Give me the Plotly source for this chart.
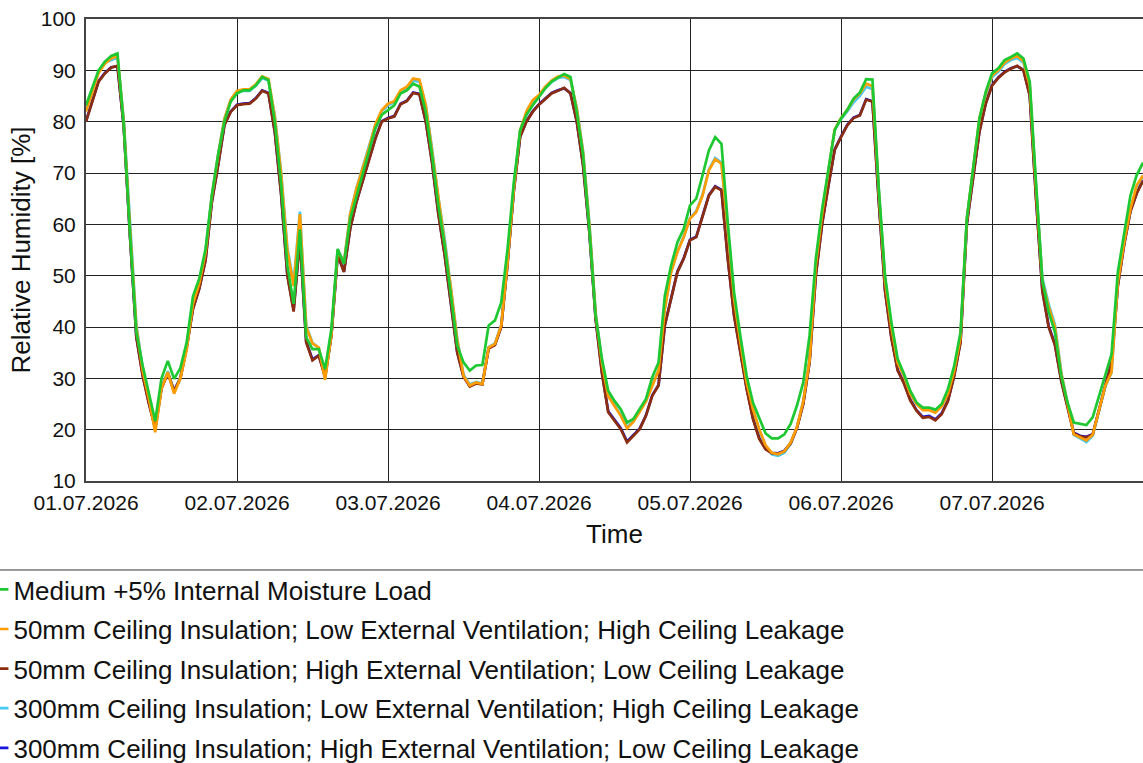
import pandas as pd
import plotly.graph_objects as go

# hourly time stamps, 01.07.2026 00:00 .. 08.07.2026 00:00
times = pd.date_range("2026-07-01 00:00", periods=169, freq="h")
tick_days = pd.date_range("2026-07-01", periods=7, freq="D")
tick_text = [d.strftime("%d.%m.%Y") for d in tick_days]

names = [
    "Medium +5% Internal Moisture Load",
    "50mm Ceiling Insulation; Low External Ventilation; High Ceiling Leakage",
    "50mm Ceiling Insulation; High External Ventilation; Low Ceiling Leakage",
    "300mm Ceiling Insulation; Low External Ventilation; High Ceiling Leakage",
    "300mm Ceiling Insulation; High External Ventilation; Low Ceiling Leakage",
]

rh_medium = [
    83.2, 86.8, 90.0, 91.7, 92.8, 93.3, 79.5, 58.0, 39.0, 32.5, 27.0, 21.7,
    30.0, 33.4, 29.9, 32.0, 37.0, 46.0, 49.4, 55.2, 65.6, 73.5, 80.0, 83.9,
    85.5, 86.1, 86.1, 87.1, 88.7, 88.1, 80.0, 68.0, 52.0, 44.5, 59.0, 38.0,
    35.7, 35.7, 31.8, 39.6, 55.2, 52.3, 61.1, 65.6, 69.9, 74.1, 78.7, 81.3,
    82.2, 83.2, 85.5, 86.1, 87.4, 86.8, 81.9, 73.5, 63.7, 55.9, 46.1, 36.4,
    33.1, 31.5, 32.5, 32.6, 40.3, 41.3, 44.8, 55.2, 68.2, 78.3, 81.3, 83.2,
    84.8, 86.5, 87.8, 88.5, 89.3, 88.7, 81.9, 73.5, 59.2, 42.2, 33.8, 27.6,
    25.6, 24.0, 21.4, 22.1, 24.0, 26.0, 30.2, 33.1, 46.1, 52.0, 56.5, 59.1,
    63.7, 65.0, 69.6, 74.4, 77.0, 75.7, 60.4, 46.8, 38.3, 30.5, 25.3, 22.1,
    19.3, 18.3, 18.3, 19.1, 21.1, 24.7, 29.2, 38.3, 53.3, 63.0, 70.9, 78.4,
    80.6, 82.3, 84.5, 85.7, 88.3, 88.2, 67.0, 50.0, 41.0, 33.8, 30.9, 27.6,
    25.3, 24.3, 24.3, 23.9, 25.0, 27.9, 32.5, 39.0, 61.1, 70.9, 80.6, 85.8,
    89.4, 90.4, 92.0, 92.6, 93.3, 92.3, 87.8, 68.0, 49.0, 43.0, 39.0, 30.5,
    25.3, 21.4, 21.1, 20.9, 22.4, 26.6, 30.5, 34.7, 50.7, 58.5, 65.6, 69.6,
    72.0,
]

rh_50_low_vent = [
    82.0, 86.0, 89.5, 91.3, 92.3, 92.8, 80.0, 59.0, 40.0, 31.5, 26.0, 19.5,
    28.0, 31.2, 27.0, 30.0, 35.5, 44.5, 48.5, 54.5, 65.5, 73.5, 80.5, 84.3,
    86.0, 86.3, 86.3, 87.3, 88.8, 88.3, 81.0, 70.0, 55.0, 48.0, 62.0, 40.0,
    36.8, 36.0, 29.7, 38.5, 55.0, 52.5, 62.0, 67.0, 71.0, 75.0, 79.5, 82.2,
    83.5, 84.0, 86.1, 86.8, 88.4, 88.2, 83.2, 74.5, 65.0, 57.0, 47.5, 37.5,
    30.5, 28.6, 29.2, 28.9, 36.0, 36.7, 40.3, 52.6, 67.0, 78.3, 82.0, 84.2,
    85.2, 86.8, 88.0, 88.8, 89.0, 88.3, 82.5, 74.0, 60.0, 42.5, 33.0, 26.5,
    24.6, 22.7, 20.3, 21.5, 23.5, 25.5, 28.5, 31.5, 43.5, 50.7, 54.6, 57.5,
    61.1, 62.4, 65.6, 70.5, 72.7, 71.8, 59.1, 45.5, 37.0, 29.2, 24.0, 20.1,
    17.0, 15.5, 15.2, 15.8, 17.5, 20.5, 25.5, 33.5, 52.0, 62.0, 70.5, 78.5,
    80.7, 82.3, 84.3, 85.5, 87.4, 86.9, 66.5, 49.0, 40.0, 33.0, 30.5, 27.0,
    25.0, 23.8, 23.8, 23.3, 24.5, 27.0, 31.5, 38.0, 61.0, 71.0, 80.6, 85.5,
    89.0, 90.0, 91.5, 92.3, 92.8, 91.8, 87.0, 67.0, 49.0, 44.0, 40.0, 31.0,
    25.0, 19.1, 18.5, 17.9, 19.0, 24.0, 28.5, 31.2, 48.7, 56.5, 63.0, 67.6,
    69.5,
]

rh_50_high_vent = [
    80.0, 84.0, 87.8, 89.4, 90.5, 90.9, 79.0, 57.5, 38.0, 30.5, 25.0, 20.3,
    28.0, 31.0, 27.5, 30.0, 36.0, 43.5, 47.4, 53.0, 64.3, 71.5, 79.3, 81.9,
    83.2, 83.4, 83.5, 84.5, 86.0, 85.5, 78.0, 66.0, 50.0, 43.0, 57.0, 37.0,
    33.5, 34.4, 30.3, 38.3, 54.0, 50.7, 59.2, 64.4, 68.6, 72.8, 76.7, 80.0,
    80.6, 81.0, 83.4, 84.0, 85.6, 85.3, 80.0, 72.0, 62.0, 54.0, 44.0, 35.0,
    30.3, 28.4, 29.0, 28.8, 35.8, 36.5, 40.0, 52.3, 66.5, 77.0, 80.0, 81.9,
    83.3, 84.5, 85.5, 86.0, 86.6, 85.5, 80.0, 71.5, 58.5, 41.5, 31.0, 23.4,
    21.7, 20.1, 17.5, 18.8, 20.1, 22.7, 26.6, 28.6, 40.3, 45.5, 50.7, 53.3,
    56.9, 57.5, 61.7, 65.6, 67.3, 66.6, 53.3, 42.2, 35.1, 27.9, 22.1, 18.2,
    16.2, 15.4, 15.3, 15.8, 17.3, 20.3, 25.0, 33.0, 50.0, 60.0, 67.5, 74.5,
    77.0, 79.3, 80.7, 81.2, 84.3, 83.9, 64.5, 47.0, 37.9, 31.5, 29.0, 25.7,
    23.7, 22.3, 22.5, 21.8, 23.0, 25.6, 30.5, 37.0, 60.0, 69.5, 78.0, 83.5,
    87.0, 88.5, 89.6, 90.3, 90.9, 90.0, 85.0, 65.0, 47.0, 40.0, 36.5, 29.5,
    24.5, 19.3, 18.7, 18.5, 19.0, 24.0, 28.5, 33.0, 48.0, 56.0, 62.5, 66.0,
    68.5,
]

rh_300_low_vent = [
    82.2, 86.2, 89.7, 91.5, 92.0, 92.5, 80.3, 59.5, 40.5, 32.0, 26.3, 19.8,
    28.2, 31.4, 27.3, 30.2, 35.8, 44.8, 48.7, 54.7, 65.7, 73.6, 80.6, 84.2,
    85.8, 86.0, 86.0, 87.0, 88.5, 88.0, 81.2, 70.3, 55.5, 48.5, 62.5, 40.3,
    36.9, 35.9, 29.8, 38.6, 55.1, 52.6, 62.1, 67.1, 71.1, 75.1, 79.4, 82.0,
    83.2, 83.8, 85.8, 86.5, 88.0, 87.8, 83.3, 74.8, 65.3, 57.3, 47.8, 37.8,
    30.7, 28.8, 29.3, 29.0, 36.1, 36.8, 40.4, 52.7, 67.1, 78.2, 81.8, 84.0,
    85.0, 86.5, 87.7, 88.5, 88.7, 88.1, 82.7, 74.3, 60.4, 42.8, 33.3, 26.8,
    24.8, 22.9, 20.5, 21.6, 23.6, 25.6, 28.6, 31.6, 43.6, 50.8, 54.7, 57.6,
    61.2, 62.6, 65.8, 70.7, 72.9, 72.0, 59.4, 45.8, 37.3, 29.4, 24.1, 20.0,
    16.8, 15.2, 14.9, 15.5, 17.3, 20.4, 25.6, 33.7, 52.1, 62.1, 70.4, 78.3,
    80.5, 82.0, 83.8, 85.0, 86.8, 86.3, 66.8, 49.4, 40.3, 33.2, 30.6, 27.1,
    25.0, 23.9, 23.9, 23.4, 24.6, 27.1, 31.6, 38.2, 61.0, 70.9, 80.3, 85.2,
    88.7, 89.7, 91.2, 92.0, 92.4, 91.5, 86.8, 67.4, 49.6, 44.5, 40.5, 31.3,
    25.1, 19.0, 18.3, 17.6, 18.8, 23.9, 28.4, 31.1, 48.6, 56.4, 62.9, 67.4,
    69.3,
]

rh_300_high_vent = [
    80.1, 84.1, 87.9, 89.5, 90.6, 90.8, 79.1, 57.7, 38.2, 30.7, 25.2, 20.4,
    28.1, 31.1, 27.6, 30.1, 36.1, 43.6, 47.5, 53.1, 64.4, 71.6, 79.4, 82.0,
    83.3, 83.5, 83.6, 84.6, 86.1, 85.6, 78.2, 66.2, 50.3, 43.4, 57.4, 37.2,
    33.7, 34.5, 30.4, 38.4, 54.1, 50.8, 59.3, 64.5, 68.7, 72.9, 76.8, 80.1,
    80.7, 81.1, 83.5, 84.1, 85.7, 85.4, 80.1, 72.2, 62.2, 54.2, 44.2, 35.2,
    30.4, 28.5, 29.1, 28.9, 35.9, 36.6, 40.1, 52.4, 66.6, 77.1, 80.1, 82.0,
    83.4, 84.6, 85.6, 86.1, 86.5, 85.6, 80.1, 71.7, 58.7, 41.7, 31.2, 23.6,
    21.9, 20.3, 17.7, 18.9, 20.2, 22.8, 26.7, 28.7, 40.4, 45.6, 50.8, 53.4,
    57.0, 57.6, 61.8, 65.7, 67.4, 66.7, 53.5, 42.4, 35.3, 28.1, 22.3, 18.4,
    16.3, 15.5, 15.4, 15.9, 17.4, 20.4, 25.1, 33.2, 50.2, 60.2, 67.6, 74.6,
    77.1, 79.4, 80.8, 81.3, 84.4, 84.0, 64.7, 47.2, 38.1, 31.7, 29.2, 25.9,
    23.8, 22.5, 22.7, 22.0, 23.2, 25.7, 30.6, 37.2, 60.1, 69.6, 78.1, 83.6,
    87.1, 88.6, 89.7, 90.4, 90.8, 90.1, 85.2, 65.2, 47.3, 40.2, 36.7, 29.7,
    24.6, 19.4, 18.8, 18.6, 19.1, 24.1, 28.6, 33.1, 48.1, 56.1, 62.6, 66.1,
    68.6,
]

series = [rh_medium, rh_50_low_vent, rh_50_high_vent, rh_300_low_vent, rh_300_high_vent]
colors = ["#1ec832", "#ff9c00", "#8c2d0f", "#46c8f5", "#1414dc"]
# drawn bottom to top so green sits over orange, orange over brown etc.
draw_order = [4, 3, 2, 1, 0]

FONT = "Liberation Sans, Arial, sans-serif"

fig = go.Figure()
for i in draw_order:
    fig.add_trace(go.Scatter(
        x=times, y=series[i], mode="lines", name=names[i],
        line=dict(color=colors[i], width=2.7),
        legendrank=i + 1, legendgroup=str(i),
    ))

fig.update_xaxes(
    range=[times[0], times[-1]],
    tickvals=tick_days, ticktext=tick_text,
    showgrid=True, gridcolor="#222", gridwidth=1,
    showline=True, linecolor="#444", linewidth=2, mirror=True,
    ticks="", tickfont=dict(size=21, color="#111"), ticklabelstandoff=2,
    title=dict(text="Time", font=dict(size=26, color="#111"), standoff=12),
)
fig.update_yaxes(
    range=[10, 100], dtick=10,
    showgrid=True, gridcolor="#222", gridwidth=1,
    showline=True, linecolor="#444", linewidth=2, mirror=True,
    ticks="", tickfont=dict(size=21, color="#111"), ticklabelstandoff=4,
    title=dict(text="Relative Humidity [%]", font=dict(size=26, color="#111"), standoff=3),
)

# thin rule between the chart and the legend
fig.add_shape(type="line", xref="paper", yref="paper",
              x0=-0.09, x1=1.0, y0=-0.1926, y1=-0.1926,
              line=dict(color="#333", width=1))

fig.update_layout(
    width=1143, height=763,
    margin=dict(l=86, r=0, t=19, b=282, autoexpand=False),
    plot_bgcolor="white", paper_bgcolor="white",
    font=dict(family=FONT, color="#111"),
    showlegend=True,
    legend=dict(
        x=-0.1065, y=-0.184, xanchor="left", yanchor="top",
        font=dict(size=26, color="#111"),
        tracegroupgap=2.8, itemwidth=30,
        bgcolor="rgba(0,0,0,0)",
    ),
)

fig.write_html("out.html", config={"displayModeBar": False},
               post_script="document.body.style.margin='0';")
